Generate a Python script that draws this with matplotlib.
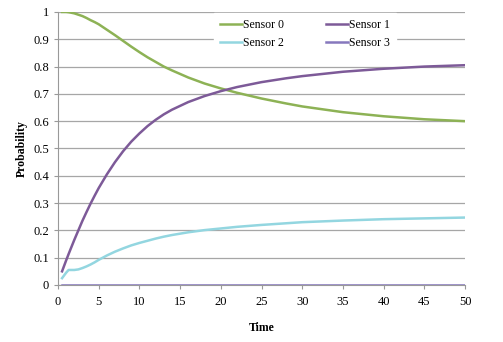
import numpy as np
import matplotlib.pyplot as plt

plt.rcParams['font.family'] = ['Liberation Serif', 'DejaVu Serif']

# -----------------------------
# Data
# -----------------------------
time = [0.5, 1, 1.3, 1.5, 2, 2.5, 3, 3.5, 4, 4.5, 5, 6, 7, 8, 9, 10, 11, 12,
        13, 14, 16, 18, 20, 22, 25, 28, 30, 35, 40, 45, 50]
sensor0 = [1.0, 1.0, 0.999, 0.998, 0.995, 0.99, 0.985, 0.978, 0.97, 0.963,
           0.955, 0.935, 0.915, 0.894, 0.873, 0.853, 0.834, 0.817, 0.8,
           0.786, 0.76, 0.738, 0.72, 0.704, 0.683, 0.665, 0.654, 0.633,
           0.618, 0.607, 0.6]
sensor1 = [0.05, 0.09, 0.113, 0.128, 0.165, 0.2, 0.235, 0.267, 0.298, 0.327,
           0.355, 0.405, 0.45, 0.49, 0.525, 0.555, 0.582, 0.605, 0.625,
           0.642, 0.67, 0.692, 0.71, 0.725, 0.743, 0.757, 0.765, 0.781,
           0.792, 0.8, 0.805]
sensor2 = [0.025, 0.045, 0.055, 0.055, 0.055, 0.057, 0.062, 0.068, 0.075,
           0.083, 0.092, 0.108, 0.122, 0.134, 0.145, 0.154, 0.162, 0.17,
           0.177, 0.183, 0.193, 0.201, 0.207, 0.213, 0.22, 0.226, 0.23,
           0.236, 0.241, 0.244, 0.247]
sensor3 = [0.0] * len(time)

names = ["Sensor 0", "Sensor 1", "Sensor 2", "Sensor 3"]
colors = ["#8DB255", "#7D5A98", "#93D6E0", "#8678BD"]

x_ticks = [0, 5, 10, 15, 20, 25, 30, 35, 40, 45, 50]
y_ticks = [0, 0.1, 0.2, 0.3, 0.4, 0.5, 0.6, 0.7, 0.8, 0.9, 1]

# -----------------------------
# Plot
# -----------------------------
fig = plt.figure(figsize=(5.03, 3.42), dpi=100)
ax = fig.add_axes([0.1153, 0.1667, 0.8092, 0.7983])

series = [sensor0, sensor1, sensor2, sensor3]
lines = []
for name, vals, c in zip(names, series, colors):
    ln, = ax.plot(time, vals, color=c, lw=1.8, label=name, zorder=3,
                  solid_joinstyle="round")
    lines.append(ln)

ax.set_xlim(0, 50)
ax.set_ylim(0, 1)
ax.set_xticks(x_ticks)
ax.set_yticks(y_ticks)
ax.set_yticklabels([f"{v:g}" for v in y_ticks])
ax.tick_params(labelsize=9, length=3, color="#999999", width=0.8)
ax.tick_params(axis="x", pad=5)
ax.yaxis.grid(True, color="#A6A6A6", lw=0.9)
ax.set_axisbelow(True)
for s in ["top", "right"]:
    ax.spines[s].set_visible(False)
ax.spines["left"].set_color("#999999")
ax.spines["bottom"].set_color("#999999")

ax.set_xlabel("Time", fontsize=8.5, fontweight="bold", labelpad=10)
ax.set_ylabel("Probability", fontsize=8.5, fontweight="bold", labelpad=4)

# row-wise order: Sensor 0, Sensor 1 / Sensor 2, Sensor 3
order = [0, 2, 1, 3]
leg = ax.legend([lines[i] for i in order], [names[i] for i in order],
                ncol=2, loc="upper left", bbox_to_anchor=(0.37, 1.018),
                frameon=True, fontsize=8.5, handlelength=1.8, handletextpad=0.1,
                columnspacing=3.6, borderpad=0.5, labelspacing=0.5,
                fancybox=False, edgecolor="white", framealpha=1)

fig.savefig("out.png", dpi=100)
